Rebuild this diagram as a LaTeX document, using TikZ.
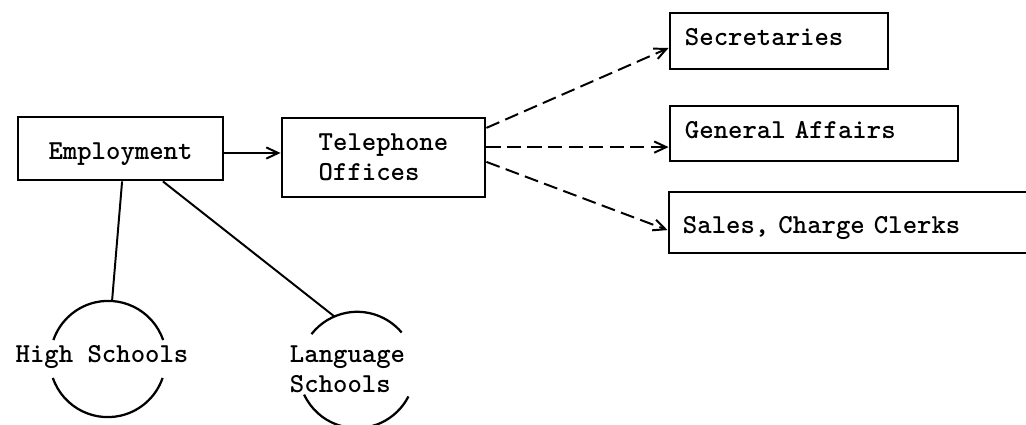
\documentclass[tikz,border=0pt]{standalone}
\usetikzlibrary{arrows.meta,calc}
\begin{document}
\begin{tikzpicture}[x=0.025cm,y=-0.025cm,
  every node/.style={font=\ttfamily\bfseries\fontsize{19.5pt}{21.5pt}\selectfont},
  box/.style={draw,line width=2pt,inner sep=0pt,rectangle},
  lbox/.style={box,inner xsep=0.375cm,align=left,text height=0.45cm,text depth=0.2cm},
  conn/.style={line width=1.4pt},
  arr/.style={conn,-{Straight Barb[length=0.3cm,width=0.28cm]}},
  darr/.style={arr,dash pattern=on 10pt off 4.6pt},
  ring/.style={line width=1.6pt},
  hub/.style={circle,minimum size=2.9cm,inner sep=0pt}]
\clip (0,0) rectangle (1026,425);
% boxes
\node[box,minimum width=5.125cm,minimum height=1.575cm,text height=0.6cm,text depth=0.025cm] (emp) at (120.5,148.5) {Employment};
\node[box,minimum width=5.075cm,minimum height=1.975cm,align=left] (tel) at (383.5,157.5) {Telephone\\Offices};
\node[lbox,text width=4.7cm,minimum height=1.4cm] (sec) at (779,41) {Secretaries};
\node[lbox,text width=6.45cm,minimum height=1.375cm] (gen) at (814,133.5) {General Affairs};
\node[lbox,inner xsep=0.35cm,text width=8.825cm,minimum height=1.525cm,text height=0.6cm,text depth=0.075cm] (sal) at (859.5,222.5) {Sales, Charge Clerks};
% circles
\node[hub] (hsc) at (108,359) {};
\node[hub] (lsc) at (357,370) {};
\draw[ring] (hsc.19) arc[start angle=19,end angle=161,radius=1.45cm];
\draw[ring] (hsc.199) arc[start angle=199,end angle=341,radius=1.45cm];
\draw[ring] (lsc.40) arc[start angle=40,end angle=142,radius=1.45cm];
\draw[ring] (lsc.205) arc[start angle=205,end angle=333,radius=1.45cm];
\node[anchor=base] (hs) at (102,363) {High Schools};
\node[anchor=base west,align=left] (ls) at (285,393) {Language\\Schools};
% connectors
\draw[arr] ([yshift=-0.1125cm]emp.east) -- ([yshift=-0.1125cm]emp.east -| tel.west);
\draw[conn] ([xshift=0.04cm]emp.south) -- (hsc.86);
\draw[conn] ([xshift=1.06cm]emp.south) -- (lsc.113);
\draw[darr] ([yshift=0.74cm]tel.east) -- ([yshift=-0.175cm]sec.west);
\draw[darr] ([yshift=0.26cm]tel.east) -- ([yshift=0.26cm]tel.east -| gen.west);
\draw[darr] ([yshift=-0.11cm]tel.east) -- ([yshift=-0.19cm]sal.west);
\end{tikzpicture}
\end{document}
